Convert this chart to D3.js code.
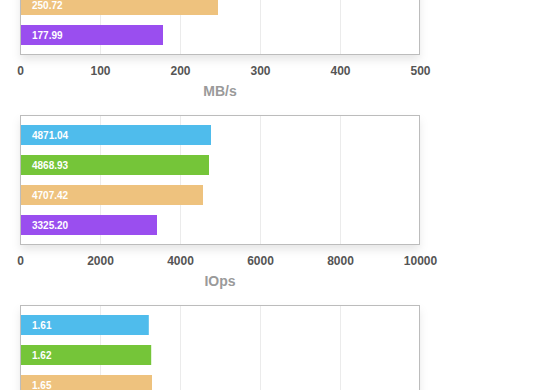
<!DOCTYPE html>
<html>
<head>
<meta charset="utf-8">
<script src="https://cdn.jsdelivr.net/npm/d3@7"></script>
<style>
  html, body { margin: 0; padding: 0; background: #fff; }
  svg { display: block; font-family: "Liberation Sans", Arial, Helvetica, sans-serif; }
</style>
</head>
<body>
<svg id="chart"></svg>
<script>
// series (legend is off-screen, so just generic keys)
const seriesKeys = ["s1", "s2", "s3", "s4"];
const seriesColors = ["#4fbcec", "#75c539", "#eec27e", "#9a4eef"];

// panel 1: throughput (first two bars are above the visible area)
const mbpsBars = [null, null, 247.5, 178.75];
const mbpsLabels = [null, null, "250.72", "177.99"];
const mbpsTicks = [0, 100, 200, 300, 400, 500];

// panel 2: IOps
const iopsBars = [4775, 4725, 4575, 3425];
const iopsLabels = ["4871.04", "4868.93", "4707.42", "3325.20"];
const iopsTicks = [0, 2000, 4000, 6000, 8000, 10000];

// panel 3: latency (last bar and the axis fall below the visible area)
const latBars = [1.61, 1.64, 1.65, null];
const latLabels = ["1.61", "1.62", "1.65", null];
const latTicks = [0, 1, 2, 3, 4, 5];

const panels = [
  { bars: mbpsBars, labels: mbpsLabels, ticks: mbpsTicks, title: "MB/s" },
  { bars: iopsBars, labels: iopsLabels, ticks: iopsTicks, title: "IOps" },
  { bars: latBars, labels: latLabels, ticks: latTicks, title: null }
];

const width = 560, height = 390;
const left = 20, right = 420;
const panelH = 130, panelStep = 190, firstTop = -75;

const svg = d3.select("#chart").attr("width", width).attr("height", height);

const defs = svg.append("defs");
const f = defs.append("filter").attr("id", "shadow")
  .attr("x", "-10%").attr("y", "-10%").attr("width", "120%").attr("height", "140%");
f.append("feDropShadow").attr("dx", 0).attr("dy", 5).attr("stdDeviation", 4)
  .attr("flood-color", "#000").attr("flood-opacity", 0.1);

panels.forEach((p, i) => {
  const top = firstTop + i * panelStep;
  const g = svg.append("g");

  const x = d3.scaleLinear()
    .domain([p.ticks[0], p.ticks[p.ticks.length - 1]])
    .range([left, right]);

  const y = d3.scaleBand()
    .domain(seriesKeys)
    .range([top, top + panelH])
    .paddingInner(1 / 3)
    .paddingOuter(1 / 3);

  // background with soft shadow
  g.append("rect")
    .attr("x", left + 0.5).attr("y", top + 0.5)
    .attr("width", right - left - 1).attr("height", panelH - 1)
    .attr("fill", "#fff")
    .attr("filter", "url(#shadow)");

  // grid
  g.selectAll(".grid")
    .data(p.ticks.slice(1, -1))
    .enter()
    .append("line")
    .attr("x1", d => Math.round(x(d)) + 0.5)
    .attr("x2", d => Math.round(x(d)) + 0.5)
    .attr("y1", top)
    .attr("y2", top + panelH)
    .attr("stroke", "#ebebeb");

  // bars
  const rows = seriesKeys.map((k, j) => ({ key: k, v: p.bars[j], label: p.labels[j], color: seriesColors[j] }))
    .filter(d => d.v != null);

  g.selectAll(".bar")
    .data(rows)
    .enter()
    .append("rect")
    .attr("x", x(0) + 1)
    .attr("y", d => y(d.key))
    .attr("width", d => x(d.v) - x(0) - 1)
    .attr("height", y.bandwidth())
    .attr("fill", d => d.color);

  g.selectAll(".val")
    .data(rows)
    .enter()
    .append("text")
    .attr("x", left + 12)
    .attr("y", d => y(d.key) + y.bandwidth() / 2)
    .attr("dy", "0.35em")
    .attr("fill", "#fff")
    .attr("font-size", 10)
    .attr("font-weight", "bold")
    .text(d => d.label);

  // frame
  g.append("rect")
    .attr("x", left + 0.5).attr("y", top + 0.5)
    .attr("width", right - left - 1).attr("height", panelH - 1)
    .attr("fill", "none")
    .attr("stroke", "#bcbcbc");

  // axis only when it lands inside the picture
  if (top + panelH + 10 < height) {
    const ax = g.append("g")
      .attr("transform", `translate(0,${top + panelH})`)
      .call(d3.axisBottom(x).tickValues(p.ticks).tickSize(0).tickPadding(11).tickFormat(d3.format("d")));
    ax.select(".domain").remove();
    ax.selectAll("text")
      .attr("font-size", 12)
      .attr("font-weight", "bold")
      .attr("font-family", "Liberation Sans, Arial, sans-serif")
      .attr("fill", "#555");

    g.append("text")
      .attr("x", (left + right) / 2)
      .attr("y", top + panelH + 36)
      .attr("dy", "0.35em")
      .attr("text-anchor", "middle")
      .attr("font-size", 14)
      .attr("font-weight", "bold")
      .attr("fill", "#9a9a9a")
      .text(p.title);
  }
});
</script>
</body>
</html>
